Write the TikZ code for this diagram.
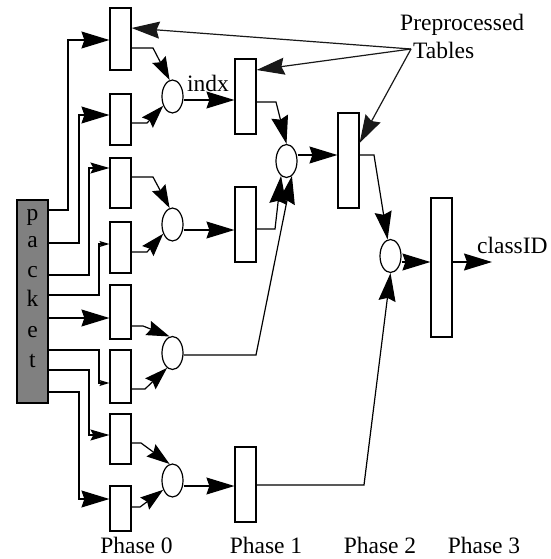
\documentclass[tikz,border=0pt]{standalone}
\usepackage{fontspec}
\setmainfont{Liberation Serif}
\usetikzlibrary{arrows.meta,shapes.geometric,calc}

\begin{document}
\begin{tikzpicture}[x=1pt,y=-1pt,every node/.style={font=\fontsize{23.5}{27}\selectfont}]
\tikzstyle{tbl}=[draw,line width=1.2pt,minimum width=21pt,inner sep=0pt]
\tikzstyle{comb}=[draw,ellipse,line width=1.2pt,minimum width=21pt,minimum height=33pt,inner sep=0pt]
\tikzstyle{big}=[line width=1.2pt,-{Stealth[length=28pt,width=17pt,inset=3pt]}]
\tikzstyle{mid}=[line width=1.2pt,-{Stealth[length=23pt,width=15pt,inset=3pt]}]
\tikzstyle{small}=[line width=1.2pt,-{Stealth[length=19pt,width=11pt,inset=3pt]}]
\tikzstyle{tiny}=[line width=1.2pt,-{Stealth[length=10pt,width=6pt,inset=2pt]}]
\tikzstyle{txt}=[inner sep=0pt]

\useasboundingbox (0,0) rectangle (550,559);

% packet
\node (packet) [draw,line width=1.2pt,fill=black!50,minimum width=31pt,minimum height=203pt,inner sep=0pt] at (32.5,301.5) {};
\foreach \lt/\y in {p/220,a/247,c/277,k/306,e/337,t/367}
  \node (l\lt) [txt,anchor=base] at (32.5,\y) {\lt};

% phase 0
\foreach \n/\y/\h in {1/39/62,2/119.5/51,3/183/50,4/247.5/51,5/312/54,6/376.5/53,7/439/50,8/508.5/45}
  \node (B\n) [tbl,minimum height=\h pt] at (120.5,\y) {};
\node (O1) [comb] at (172.5,96.5) {};
\node (O2) [comb] at (172.5,224.5) {};
\node (O3) [comb] at (172.5,353) {};
\node (O4) [comb] at (172.5,480.5) {};

% phase 1, 2, 3
\node (P1a) [tbl,minimum height=75pt] at (245.5,96.5) {};
\node (P1b) [tbl,minimum height=75pt] at (245.5,224.5) {};
\node (P1c) [tbl,minimum height=75pt] at (245.5,484.5) {};
\node (Q1) [comb] at (286.5,161) {};
\node (P2) [tbl,minimum height=95pt] at (348.5,160.5) {};
\node (Q2) [comb] at (390.5,256) {};
\node (P3) [tbl,minimum height=139pt] at (441.5,267.5) {};

% labels
\node (indx) [txt,anchor=base west] at (187,92) {indx};
\node (cls) [txt,anchor=base west] at (477,253) {classID};
\node (pre) [txt,anchor=base west] at (400,31) {Preprocessed};
\node (tab) [txt,anchor=base west] at (413,59) {Tables};
\coordinate (src) at (411,49);
\coordinate (out) at (492,262);
\foreach \n/\x in {0/136.5,1/266,2/380,3/484}
  \node (ph\n) [txt,anchor=base] at (\x,553) {Phase \n};

% packet fields into phase 0
\draw [big] (packet.east |- 0,210) -- (68,210) |- (B1.west |- 0,40);
\draw [big] (packet.east |- 0,243) -- (79,243) |- (B2.west |- 0,115);
\draw [small] (packet.east |- 0,275) -- (89,275) |- (B3.west |- 0,168);
\draw [tiny] (packet.east |- 0,295) -- (99,295) |- (B4.west |- 0,244);
\draw [big] (packet.east |- 0,318) -- (B5.west |- 0,318);
\draw [tiny] (packet.east |- 0,350) -- (99,350) |- (B6.west |- 0,383);
\draw [small] (packet.east |- 0,370) -- (89,370) |- (B7.west |- 0,435);
\draw [big] (packet.east |- 0,392) -- (79,392) |- (B8.west |- 0,499);

% phase 0 into combiners
\draw [mid] (B1.east |- 0,48) -- (153,48) -- (O1.100);
\draw [mid] (B2.east |- 0,123) -- (147,123) -- (O1.225);
\draw [mid] (B3.east |- 0,177) -- (153,177) -- (O2.100);
\draw [mid] (B4.east |- 0,252) -- (147,252) -- (O2.225);
\draw [mid] (B5.east |- 0,326) -- (143,326) -- (O3.100);
\draw [mid] (B6.east |- 0,389) -- (145,389) -- (O3.250);
\draw [mid] (B7.east |- 0,443) -- (141,443) -- (O4.100);
\draw [mid] (B8.east |- 0,507) -- (140,507) -- (O4.225);

% later phases
\draw [big] (O1.east |- 0,100) -- (P1a.west |- 0,100);
\draw [big] (O2.east |- 0,230) -- (P1b.west |- 0,230);
\draw [big] (O3.east |- 0,355) -- (256,355) -- (Q1.290);
\draw [big] (O4.east |- 0,486) -- (P1c.west |- 0,486);
\draw [big] (P1a.east |- 0,102) -- (276,102) -- (Q1.north);
\draw [big] (P1b.east |- 0,229) -- (275,229) -- (Q1.250);
\draw [big] (Q1.east |- 0,155) -- (P2.west |- 0,155);
\draw [big] (P2.east |- 0,155) -- (374,155) -- (Q2.100);
\draw [big] (P1c.east |- 0,485) -- (364,485) -- (Q2.south);
\draw [big] (Q2.east |- 0,262) -- (P3.west |- 0,262);
\draw [big] (P3.east |- out) -- (out);

% preprocessed tables
\draw [big,black!90] (src) -- (B1.east |- 0,28);
\draw [big,black!90] (src) -- (P1a.east |- 0,70);
\draw [big,black!90] (src) -- (P2.east |- 0,143);
\end{tikzpicture}
\end{document}
